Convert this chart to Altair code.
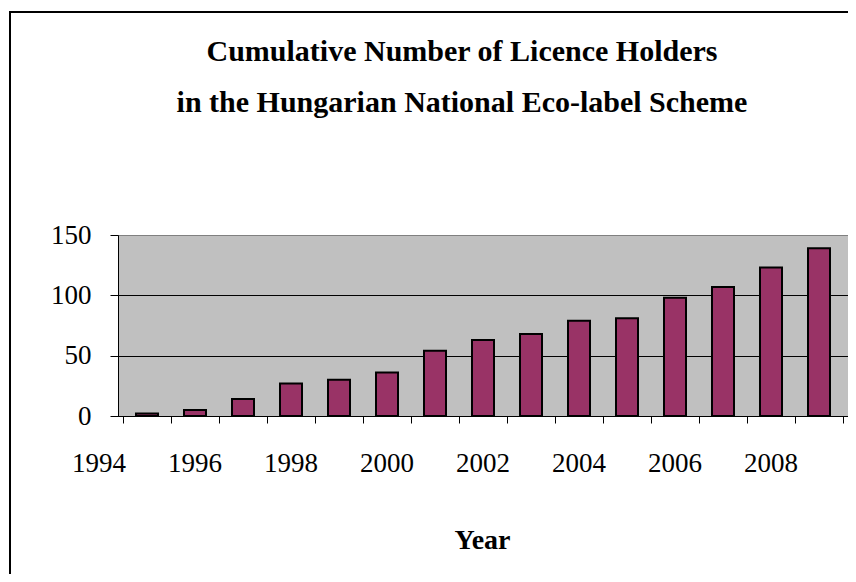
import altair as alt
import pandas as pd

# ---- data ----
years = list(range(1995, 2010))
holders = [2, 5, 14, 27, 30, 36, 54, 63, 68, 79, 81, 98, 107, 123, 139]
label_years = [1994, 1996, 1998, 2000, 2002, 2004, 2006, 2008]
tick_bounds = [y - 0.5 for y in range(1995, 2011)]   # category boundaries
y_ticks = [0, 50, 100, 150]

FONT = "Liberation Serif"

df = pd.DataFrame({"Year": years, "Holders": holders})
lab = pd.DataFrame({"Year": label_years, "Label": [str(y) for y in label_years]})
one = pd.DataFrame({"k": [0]})

x_scale = alt.Scale(domain=[1994.5, 2009.5], nice=False, zero=False)
y_scale = alt.Scale(domain=[0, 150], nice=False)

bars = alt.Chart(df).mark_bar(
    size=22, color="#993366", stroke="black", strokeWidth=2
).encode(
    x=alt.X("Year:Q", scale=x_scale,
            axis=alt.Axis(values=tick_bounds, labels=False, grid=False,
                          tickSize=7, tickColor="black", domainColor="black",
                          title="Year", titleFont=FONT, titleFontSize=28,
                          titleFontWeight="bold", titleColor="black",
                          titleX=364, titleY=132, titleBaseline="alphabetic",
                          titleAlign="center", titleAnchor="start")),
    y=alt.Y("Holders:Q", scale=y_scale,
            axis=alt.Axis(values=y_ticks, title=None, grid=True,
                          gridColor={"condition": {"test": "datum.value >= 150",
                                                   "value": "#808080"},
                                     "value": "black"},
                          gridWidth=1,
                          tickSize=8, tickColor="black", domainColor="black",
                          labelFont=FONT, labelFontSize=27, labelColor="black",
                          labelPadding=19)),
)

xlabels = alt.Chart(lab).mark_text(
    font=FONT, fontSize=27, color="black", align="center", baseline="middle"
).encode(
    x=alt.X("Year:Q", scale=x_scale),
    y=alt.value(229),
    text="Label:N",
)

frame = alt.Chart(one).mark_rect(
    fill="white", fillOpacity=0, stroke="black", strokeWidth=2
).encode(
    x=alt.value(-108), x2=alt.value(760),
    y=alt.value(-223), y2=alt.value(420),
)

chart = alt.layer(bars, xlabels, frame).properties(
    width=730, height=181,
    autosize=alt.AutoSizeParams(type="none"),
    padding={"left": 110, "top": 227, "right": 0, "bottom": 158},
    background="white",
    title=alt.Title(
        ["Cumulative Number of Licence Holders",
         "in the Hungarian National Eco-label Scheme"],
        font=FONT, fontSize=30, fontWeight="bold", color="black",
        lineHeight=51, anchor="middle", frame="group", dx=-21,
        baseline="bottom", offset=-137,
    ),
).configure_view(
    fill="#C0C0C0", stroke="#808080", strokeWidth=1
)

chart.save("out.html", embed_options={"renderer": "svg", "actions": False})
